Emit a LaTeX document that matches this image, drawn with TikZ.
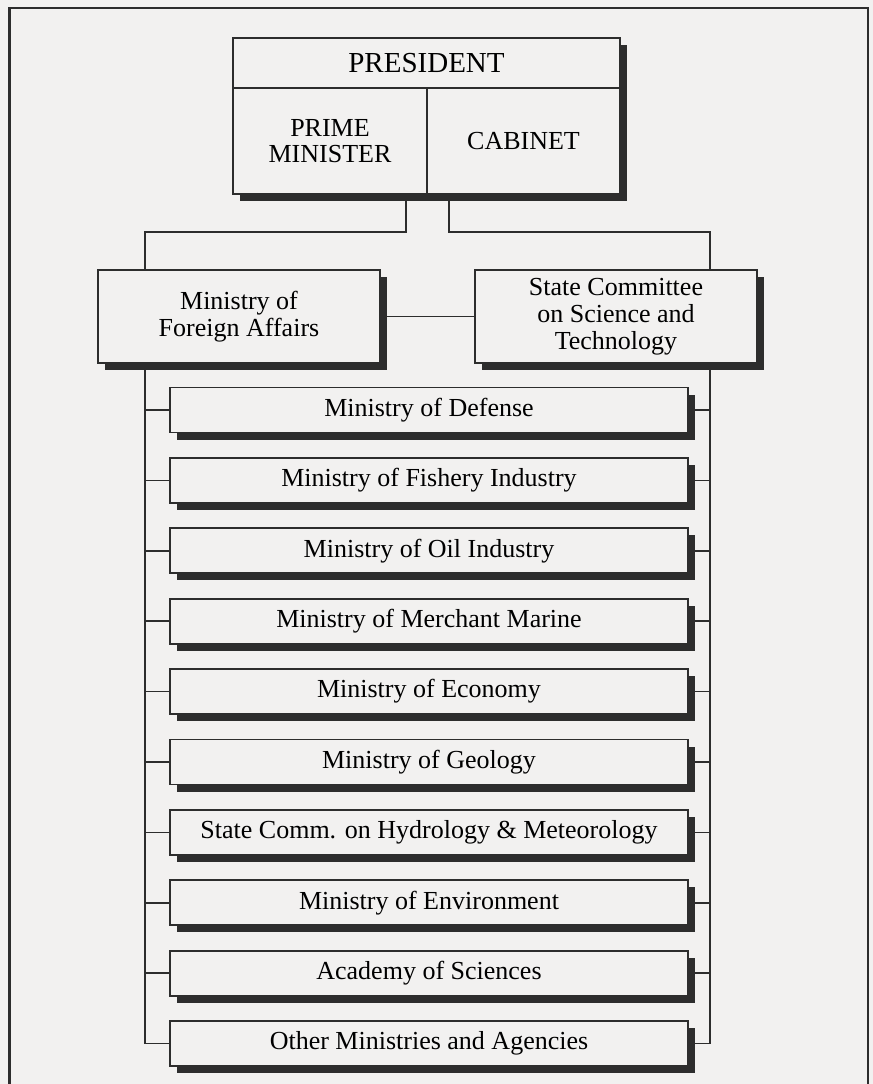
\documentclass[tikz,border=0pt]{standalone}
\usepackage{fontspec}
\setmainfont{Liberation Serif}
\usetikzlibrary{positioning}
\usetikzlibrary{shadows}

\definecolor{paper}{RGB}{242,241,240}
\definecolor{ink}{RGB}{45,45,45}

\begin{document}
\begin{tikzpicture}[%
    x=0.5pt, y=-0.5pt,
    node distance=11.8pt,
    font=\fontsize{13}{13.5}\selectfont,
    shadowed/.style={drop shadow={shadow xshift=3.5pt, shadow yshift=-3.5pt, fill=ink, opacity=1}},
    topbox/.style={rectangle, align=center, inner sep=0pt, draw=ink, line width=0.9pt, fill=paper, shadowed},
    ministry/.style={topbox, minimum width=259pt, minimum height=22.5pt},
    wire/.style={draw=ink, line width=0.8pt}
]
\useasboundingbox (0,0) rectangle (873,1084);
\fill[paper] (0,0) rectangle (873,1084);
\draw[ink, line width=1.3pt] (9.5,1084) -- (9.5,8) -- (868,8) -- (868,1084);

% Top
\node[topbox, minimum width=193.5pt, minimum height=25pt, font=\fontsize{14.5}{15}\selectfont] (president) at (426.5,63) {PRESIDENT};
\node[topbox, minimum width=97pt, minimum height=53pt, font=\fontsize{13}{13}\selectfont] (pm) at (330,141) {PRIME\\MINISTER};
\node[topbox, minimum width=96.5pt, minimum height=53pt, font=\fontsize{13}{13}\selectfont] (cabinet) at (523.5,141) {CABINET};

% Second row
\node[topbox, minimum width=141pt, minimum height=46.5pt] (foreign) at (239,316.5) {Ministry of\\Foreign Affairs};
\node[topbox, minimum width=141pt, minimum height=46.5pt] (state) at (616,316.5) {State Committee\\on Science and\\Technology};

% Ministries
\node[ministry] (defense) at (429,410) {Ministry of Defense};
\node[ministry] (fishery) [below=of defense] {Ministry of Fishery Industry};
\node[ministry] (oil) [below=of fishery] {Ministry of Oil Industry};
\node[ministry] (marine) [below=of oil] {Ministry of Merchant Marine};
\node[ministry] (economy) [below=of marine] {Ministry of Economy};
\node[ministry] (geology) [below=of economy] {Ministry of Geology};
\node[ministry] (hydro) [below=of geology] {State Comm. on Hydrology \& Meteorology};
\node[ministry] (environment) [below=of hydro] {Ministry of Environment};
\node[ministry] (academy) [below=of environment] {Academy of Sciences};
\node[ministry] (other) [below=of academy] {Other Ministries and Agencies};

% Top lines
\coordinate (lefttop) at (145,232);
\coordinate (righttop) at (710,232);
\draw[wire] ([xshift=-11pt]pm.south east) |- (lefttop) -- (lefttop |- foreign.north);
\draw[wire] ([xshift=11.5pt]cabinet.south west) |- (righttop) -- (righttop |- state.north);
\draw[wire] (foreign.east) -- (state.west);

% Side lines
\draw[wire] (lefttop |- foreign.south) -- (lefttop |- other.west) -- (other.west);
\draw[wire] (righttop |- state.south) -- (righttop |- other.east) -- (other.east);
\draw[wire] (lefttop |- defense.west) -- (defense.west) (defense.east) -- (righttop |- defense.east);
\draw[wire] (lefttop |- fishery.west) -- (fishery.west) (fishery.east) -- (righttop |- fishery.east);
\draw[wire] (lefttop |- oil.west) -- (oil.west) (oil.east) -- (righttop |- oil.east);
\draw[wire] (lefttop |- marine.west) -- (marine.west) (marine.east) -- (righttop |- marine.east);
\draw[wire] (lefttop |- economy.west) -- (economy.west) (economy.east) -- (righttop |- economy.east);
\draw[wire] (lefttop |- geology.west) -- (geology.west) (geology.east) -- (righttop |- geology.east);
\draw[wire] (lefttop |- hydro.west) -- (hydro.west) (hydro.east) -- (righttop |- hydro.east);
\draw[wire] (lefttop |- environment.west) -- (environment.west) (environment.east) -- (righttop |- environment.east);
\draw[wire] (lefttop |- academy.west) -- (academy.west) (academy.east) -- (righttop |- academy.east);

\end{tikzpicture}
\end{document}
